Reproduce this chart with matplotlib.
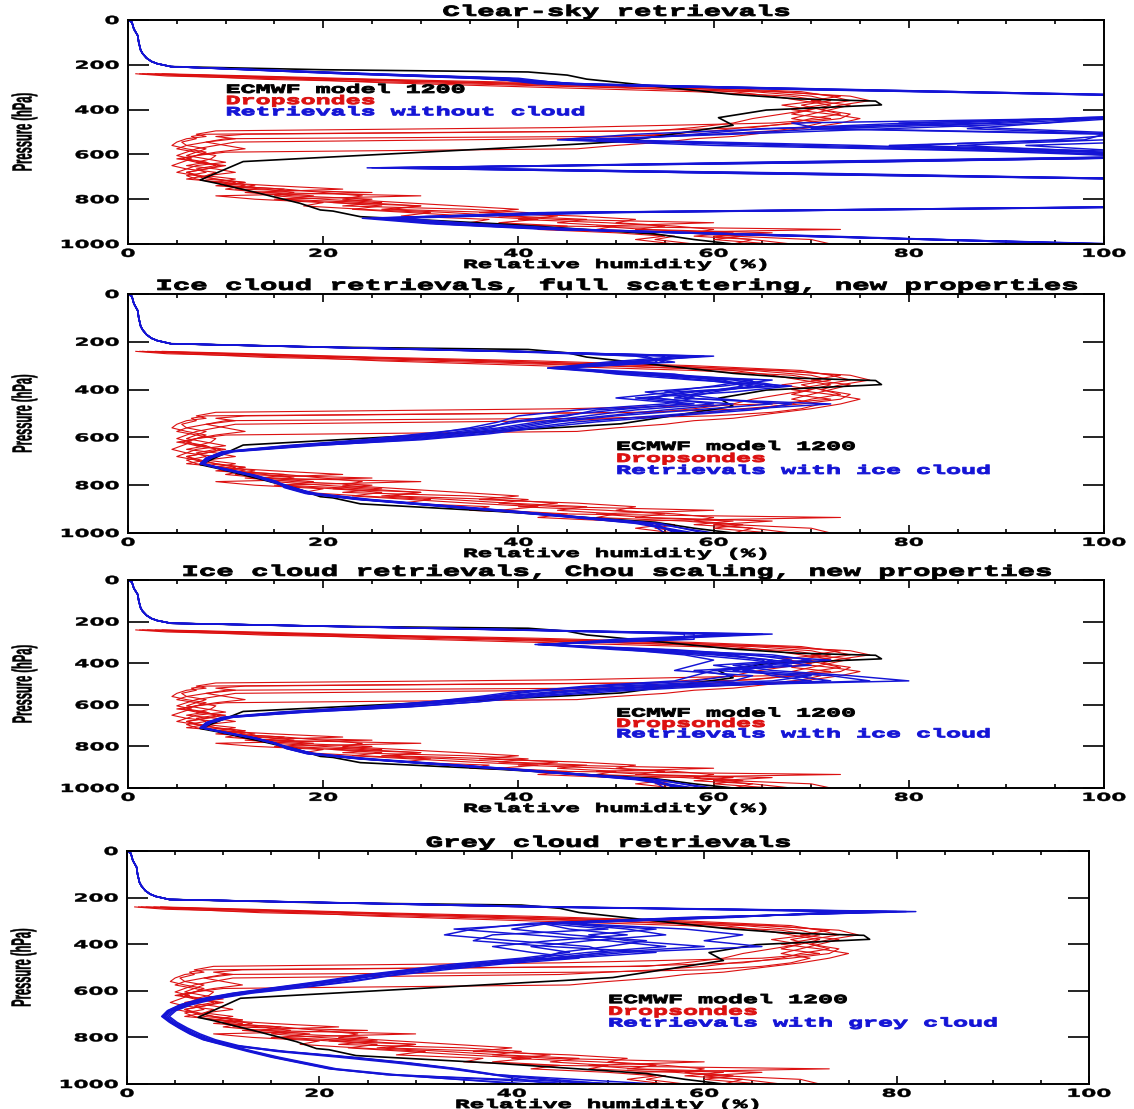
import matplotlib
matplotlib.use("Agg")
import matplotlib.pyplot as plt
from matplotlib.patheffects import AbstractPathEffect
from matplotlib.ticker import MultipleLocator
from matplotlib.transforms import Affine2D

# upper troposphere, common to the model and every retrieval (hPa / %)
upper_p = [0, 10, 40, 70, 100, 135, 150, 170, 185, 195, 208]
upper_rh = [0.0, 0.4, 0.6, 1.0, 1.1, 1.3, 1.5, 1.9, 2.4, 3.0, 4.4]

# ECMWF model 1200 below the common segment
model_p = [222, 232, 246, 264, 300, 332, 352, 362, 379, 402, 436, 470, 543, 556,
           632, 714, 729, 774, 818, 848, 853, 878, 910, 955, 980, 1000]
model_rh = [20, 41, 45, 47, 55, 62, 68.6, 76.6, 77.2, 65.4, 60.5, 62, 50.5, 45.3,
            11.8, 7.4, 9.1, 13.5, 17.6, 19.7, 21.0, 23.8, 38, 54, 58, 62]

# dropsonde profiles
sonde_p = [240, 250, 265, 280, 300, 320, 340, 360, 380, 400, 420, 440, 460, 480,
           495, 510, 520, 530, 545, 560, 575, 590, 605, 620, 635, 650, 665, 680,
           695, 710, 725, 740, 755, 770, 785, 800, 815, 830, 845, 860, 875, 890,
           905, 920, 935, 950, 965, 980, 1000]
sonde_rh = [
    [1.5, 6, 14, 30, 48, 64, 70, 72, 69, 71, 73, 70, 68, 64, 52, 8, 6.5, 7, 5.5, 6, 8, 7,
     9, 8.5, 7, 9.5, 8, 6, 7, 9, 12, 10, 16, 20, 24, 22, 28, 34, 40, 36, 46, 52, 50, 56,
     60, 58, 63, 60, 66],
    [2.0, 11, 22, 38, 55, 67, 73, 70, 74, 72, 70, 68, 71, 69, 66, 60, 48, 10, 8, 6, 5, 7,
     6, 8, 10, 7, 6, 9, 8, 11, 9, 15, 22, 12, 17, 25, 21, 30, 27, 38, 44, 40, 49, 55,
     52, 62, 58, 64, 62],
    [0.8, 4, 18, 26, 42, 58, 68, 71, 67, 70, 68, 72, 66, 45, 9, 7, 8, 6, 5, 4.5, 6, 8,
     7, 5.5, 7, 10, 8, 6, 7.5, 9, 11, 10, 16, 14, 19, 16, 24, 30, 26, 33, 39, 47, 44, 50,
     48, 57, 62, 70, 72],
    [3.5, 13, 26, 42, 58, 69, 72, 74, 71, 68, 72, 75, 73, 70, 67, 64, 62, 58, 55, 50, 46,
     10, 7, 5, 8, 6, 9, 11, 8, 6, 10, 13, 11, 25, 9, 13, 20, 18, 24, 31, 28, 37, 35, 44,
     73, 52, 56, 54, 58],
    [1.2, 8, 20, 34, 50, 62, 66, 69, 72, 70, 67, 64, 62, 58, 54, 12, 9, 11, 8, 10, 12, 9,
     7, 6, 8, 9, 7, 8, 6, 7, 9, 12, 10, 14, 30, 15, 21, 26, 23, 29, 35, 42, 38, 45, 42,
     50, 55, 52, 56],
    [2.8, 10, 24, 36, 54, 66, 74, 76, 73, 71, 74, 73, 69, 63, 60, 55, 50, 45, 11, 9, 7, 6,
     5, 6.5, 5.5, 4.5, 6, 5, 7, 8, 12, 9, 14, 17, 15, 20, 26, 22, 35, 41, 38, 44, 60, 48,
     53, 66, 60, 64, 68],
]

# retrieval levels and retrieved humidity for each experiment
ret_p = [240, 260, 285, 310, 335, 360, 385, 410, 435, 460, 485, 510, 535, 560, 585, 610,
         635, 660, 685, 710, 735, 760, 785, 810, 835, 860, 885, 910, 935, 960, 1000]

clear_rh = [
    [22, 36, 44, 70, 101, 120, 130, 118, 99, 80, 66, 52, 44, 60, 88, 104, 70, 30, 62, 102,
     125, 140, 138, 120, 101, 45, 27, 33, 45, 66, 98],
    [24, 38, 46, 73, 103, 125, 135, 122, 102, 90, 72, 60, 48, 70, 96, 110, 75, 26, 66, 106,
     130, 145, 140, 125, 104, 48, 25, 32, 44, 64, 100],
    [23, 37, 42, 69, 100, 118, 128, 115, 100, 94, 86, 102, 95, 80, 100, 108, 68, 28, 70, 104,
     126, 142, 136, 118, 100, 42, 26, 34, 46, 67, 97],
    [25, 40, 45, 71, 102, 122, 132, 120, 104, 68, 71, 104, 110, 92, 102, 112, 72, 24.5, 64,
     103, 128, 144, 139, 122, 102, 50, 28, 35, 44, 65, 101],
    [22, 35, 47, 72, 104, 124, 133, 119, 101, 79, 90, 105, 100, 85, 98, 106, 66, 32, 68, 101,
     124, 138, 134, 121, 99, 44, 24, 31, 43, 68, 99],
    [24, 39, 43, 70, 101, 121, 130, 117, 98, 88, 65, 58, 50, 75, 93, 103, 64, 29, 72, 105,
     127, 143, 137, 123, 103, 46, 27, 36, 47, 66, 100],
    [23, 36, 44, 68, 100, 119, 127, 116, 103, 94, 78, 62, 45, 66, 90, 109, 74, 27, 67, 107,
     131, 146, 141, 126, 105, 47, 26, 33, 45, 64, 102],
    [25, 38, 46, 74, 102, 123, 134, 121, 100, 84, 70, 100, 98, 78, 95, 111, 70, 25, 63, 104,
     129, 141, 138, 124, 101, 43, 25, 32, 44, 65, 98],
]

ice_full_rh = [
    [39, 58, 52, 44, 52, 62, 66, 57, 54, 60, 52, 47, 42, 38, 33, 26, 17, 10.5, 8.4, 7.6,
     10.2, 13.0, 15.0, 16.4, 18.6, 24, 31.5, 39, 46, 53, 57],
    [40, 52, 56, 43.5, 55, 64, 60, 55, 60, 66, 58, 50, 44, 40, 35, 28, 18, 10, 8.0, 7.4,
     9.8, 12.6, 14.6, 16.8, 19.0, 24.5, 32, 39.5, 46.5, 54, 56],
    [38, 60, 50, 45, 50, 58, 68, 62, 52, 58, 48, 45, 40, 36, 30, 24, 16, 9.6, 8.2, 7.5,
     10.4, 13.2, 15.3, 16.0, 18.2, 23.5, 31, 38.5, 45.5, 52.5, 58],
    [39, 55, 54, 44, 53, 61, 63, 59, 56, 72, 62, 54, 46, 41, 36, 29, 19, 10.8, 8.6, 7.7,
     10.0, 12.8, 14.8, 16.6, 19.4, 25, 32.5, 40, 47, 54.5, 59],
    [40, 57, 49, 43, 51, 66, 61, 53, 58, 55, 46, 40, 38, 35, 31, 25, 16.5, 9.8, 8.1, 7.4,
     10.1, 12.9, 15.1, 17.0, 18.8, 24.2, 31.8, 39.2, 46.2, 53.5, 55],
    [38, 53, 55, 44.5, 56, 60, 65, 58, 53, 62, 55, 49, 43, 39, 34, 27, 17.5, 10.2, 8.3, 7.5,
     9.9, 12.7, 14.9, 16.2, 18.4, 23.8, 31.2, 38.8, 45.8, 52, 57.5],
    [39, 59, 51, 43, 54, 63, 67, 56, 50, 57, 50, 44, 39, 37, 32, 25.5, 16.8, 10.0, 8.2, 7.6,
     10.3, 13.1, 15.2, 16.5, 18.9, 24.4, 32.2, 39.8, 46.8, 53.8, 60],
    [40, 56, 53, 44, 52, 59, 64, 60, 57, 68, 64, 56, 48, 42, 37, 30, 18.5, 10.4, 8.5, 7.8,
     10.0, 13.0, 15.0, 16.3, 18.5, 24.0, 31.6, 39.4, 46.4, 53.2, 56.5],
]

ice_chou_rh = [
    [40, 62, 55, 42, 50, 60, 66, 64, 60, 70, 66, 52, 44, 38, 32, 25, 16, 10, 8.2, 7.5,
     10, 13, 15, 16.5, 18.6, 24, 31.5, 39, 46, 53, 57],
    [41, 58, 58, 42.5, 54, 66, 70, 62, 66, 74, 80, 56, 46, 40, 34, 27, 17, 10.4, 8.4, 7.6,
     10.2, 12.8, 14.8, 16.8, 19, 24.5, 32, 39.5, 46.5, 54, 56],
    [39, 65, 52, 43, 52, 58, 64, 68, 58, 62, 58, 48, 42, 37, 31, 24, 15.5, 9.6, 8.0, 7.4,
     10.3, 13.1, 15.2, 16.2, 18.3, 23.6, 31, 38.6, 45.6, 52.6, 58],
    [40, 60, 56, 41.7, 55, 63, 72, 65, 62, 68, 72, 60, 50, 42, 36, 28.5, 18, 10.8, 8.6, 7.7,
     10.0, 12.9, 14.9, 16.6, 19.3, 25, 32.5, 40, 47, 54.5, 59],
    [41, 63, 50, 43, 51, 57, 60, 58, 56, 64, 62, 50, 40, 36, 31, 25, 16.5, 9.8, 8.1, 7.4,
     10.1, 12.9, 15.1, 17.0, 18.8, 24.2, 31.8, 39.2, 46.2, 53.5, 55],
    [39, 57, 57, 42, 56, 64, 68, 60, 64, 66, 70, 54, 45, 39, 33, 26.5, 17, 10.2, 8.3, 7.5,
     9.9, 12.7, 14.9, 16.2, 18.4, 23.8, 31.2, 38.8, 45.8, 52, 57.5],
    [40, 66, 54, 43, 53, 61, 66, 70, 60, 58, 56, 47, 41, 37, 32, 25.5, 16.8, 10.0, 8.2, 7.6,
     10.3, 13.1, 15.2, 16.5, 18.9, 24.4, 32.2, 39.8, 46.8, 53.8, 60],
    [41, 61, 53, 42.5, 52, 62, 65, 66, 63, 72, 76, 58, 48, 41, 36, 29, 18.5, 10.4, 8.5, 7.8,
     10.0, 13.0, 15.0, 16.3, 18.5, 24.0, 31.6, 39.4, 46.4, 53.2, 56.5],
]

grey_rh = [
    [44, 80, 60, 42, 36, 33, 40, 48, 50, 44, 36, 30, 25, 21, 16, 11.5, 8.0, 5.8, 4.4, 3.8,
     4.6, 5.6, 6.8, 8.2, 10.5, 16, 23, 29, 34, 38, 44],
    [42, 76, 62, 45, 52, 56, 48, 42, 46, 41, 34, 29, 24, 20, 15.5, 11, 7.6, 5.5, 4.2, 3.6,
     4.4, 5.4, 6.5, 7.9, 10.2, 12.5, 15, 18, 21, 27, 42],
    [45, 82, 58, 44, 40, 46, 54, 50, 45, 43, 37, 31, 26, 22, 17, 12, 8.4, 6.1, 4.7, 4.0,
     4.8, 5.9, 7.0, 8.6, 11, 16.5, 23.5, 29.5, 34.5, 38.5, 50],
    [43, 78, 61, 43, 50, 38, 36, 44, 55, 46, 35, 30, 25.5, 21.5, 16.5, 11.8, 8.2, 5.9, 4.5,
     3.9, 4.7, 5.7, 6.9, 8.4, 10.8, 13, 15.5, 18.5, 21.5, 27.5, 41],
    [44, 74, 63, 46, 58, 64, 60, 66, 52, 45, 38, 32, 27, 23, 18, 12.5, 8.8, 6.4, 4.9, 4.2,
     5.0, 6.1, 7.3, 8.9, 11.3, 15.5, 22, 28, 33.5, 38, 48],
    [42, 81, 59, 44, 34, 42, 50, 56, 48, 42, 35.5, 29.5, 24.5, 20.5, 15.8, 11.2, 7.8, 5.6,
     4.3, 3.7, 4.5, 5.5, 6.6, 8.0, 10.4, 12.8, 15.2, 18.2, 21.2, 27, 52],
    [43, 79, 60, 43, 46, 52, 44, 38, 42, 47, 39, 33, 27.5, 23.5, 18.5, 13, 9.2, 6.7, 5.1,
     4.4, 5.2, 6.3, 7.6, 9.2, 11.6, 16.2, 23.2, 29.2, 34.2, 38.2, 55],
    [45, 77, 62, 45, 55, 48, 52, 60, 50, 44, 36.5, 30.5, 25.5, 21, 16.2, 11.6, 8.1, 5.8,
     4.4, 3.8, 4.6, 5.6, 6.8, 8.3, 10.6, 13.2, 15.8, 18.8, 21.8, 28, 47],
]

titles = ["Clear-sky retrievals",
          "Ice cloud retrievals, full scattering, new properties",
          "Ice cloud retrievals, Chou scaling, new properties",
          "Grey cloud retrievals"]
retrieval_labels = ["Retrievals without cloud", "Retrievals with ice cloud",
                    "Retrievals with ice cloud", "Retrievals with grey cloud"]
retrievals = [clear_rh, ice_full_rh, ice_chou_rh, grey_rh]
x_ticks = [0, 20, 40, 60, 80, 100]
p_ticks = [0, 200, 400, 600, 800, 1000]

RED = "#dc1010"
BLUE = "#1414d6"
W, H = 1134, 1109


class Stretch(AbstractPathEffect):
    """Scale the glyph outlines of a text about an anchor and thicken the strokes."""

    def __init__(self, sx=1.0, sy=1.0, anchor="center", lw=0.0):
        super().__init__()
        self.sx, self.sy, self.anchor, self.lw = sx, sy, anchor, lw

    def draw_path(self, renderer, gc, tpath, affine, rgbFace=None):
        ext = tpath.get_extents()
        if self.anchor == "left":
            x0 = 0.0
        elif self.anchor == "right":
            x0 = ext.x1
        else:
            x0 = 0.5 * (ext.x0 + ext.x1)
        y0 = 0.5 * (ext.y0 + ext.y1)
        warp = Affine2D().translate(-x0, -y0).scale(self.sx, self.sy).translate(x0, y0)
        gc0 = renderer.new_gc()
        gc0.copy_properties(gc)
        if self.lw and rgbFace is not None:
            gc0.set_linewidth(self.lw)
            gc0.set_foreground(rgbFace)
            gc0.set_joinstyle("round")
        renderer.draw_path(gc0, tpath, warp + affine, rgbFace)
        gc0.restore()


def frame(left, top, right, bottom):
    return [left / W, 1 - bottom / H, (right - left) / W, (bottom - top) / H]


frames = [frame(128, 20, 1104, 244), frame(128, 294, 1104, 533),
          frame(128, 580, 1104, 788), frame(127, 851, 1089, 1084)]
legend_at = [(10, 312, 50), (50, 640, 50), (50, 642, 50), (50, 640, 50)]

MONO = dict(family="Liberation Mono", weight="bold")

fig = plt.figure(figsize=(W / 100, H / 100), dpi=100)

for rect, title, rlabel, profiles, (lx, lp, dp) in zip(frames, titles, retrieval_labels,
                                                      retrievals, legend_at):
    ax = fig.add_axes(rect)
    for rh in sonde_rh:
        ax.plot(rh, sonde_p, color=RED, lw=0.8)
    ax.plot(upper_rh + model_rh, upper_p + model_p, color="black", lw=1.2)
    for rh in profiles:
        ax.plot(upper_rh + rh, upper_p + ret_p, color=BLUE, lw=1.05)

    ax.set_xlim(0, 100)
    ax.set_ylim(1000, 0)
    ax.set_xticks(x_ticks)
    ax.set_yticks(p_ticks)
    ax.xaxis.set_minor_locator(MultipleLocator(5))
    ax.tick_params(axis="x", which="major", direction="in", length=6, width=1.2,
                   top=True, bottom=True, pad=3.5)
    ax.tick_params(axis="x", which="minor", direction="in", length=3, width=1.2,
                   top=True, bottom=True)
    ax.tick_params(axis="y", which="major", direction="in", length=15, width=1.2,
                   left=True, right=True, pad=6.5)
    for side in ax.spines.values():
        side.set_linewidth(1.4)

    for lab in ax.get_xticklabels():
        lab.set(family="DejaVu Sans", weight="bold", size=8)
        lab.set_path_effects([Stretch(1.95, lw=0.3)])
    for lab in ax.get_yticklabels():
        lab.set(family="DejaVu Sans", weight="bold", size=8)
        lab.set_path_effects([Stretch(1.95, anchor="right", lw=0.3)])

    t = ax.set_title(title, fontsize=11, pad=3, **MONO)
    t.set_path_effects([Stretch(1.9, lw=0.7)])

    xl = ax.set_xlabel("Relative humidity (%)", fontsize=9, va="center", **MONO)
    xl.set_path_effects([Stretch(1.95, lw=0.6)])
    ax.xaxis.set_label_coords(0.5, -21 / (rect[3] * H))

    yl = ax.set_ylabel("Pressure (hPa)", fontsize=10, family="Liberation Sans",
                       weight="bold", va="center")
    yl.set_path_effects([Stretch(0.8, 2.0, lw=0.3)])
    ax.yaxis.set_label_coords(-104 / (rect[2] * W), 0.5)

    for i, (txt, col) in enumerate([("ECMWF model 1200", "black"),
                                    ("Dropsondes", RED), (rlabel, BLUE)]):
        lt = ax.text(lx, lp + i * dp, txt, color=col, fontsize=9, va="center",
                     ha="left", **MONO)
        lt.set_path_effects([Stretch(2.0, anchor="left", lw=0.7)])

fig.savefig("out.png", dpi=100)
